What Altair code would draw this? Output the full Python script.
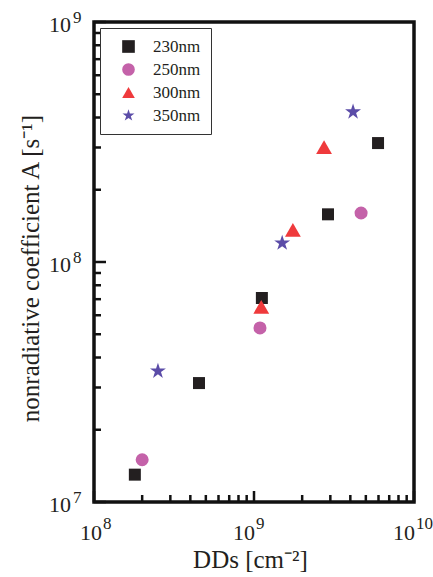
import altair as alt
import pandas as pd

series = ["230nm", "250nm", "300nm", "350nm"]
x_230 = [1.80e8, 4.53e8, 1.12e9, 2.90e9, 5.96e9]
y_230 = [1.30e7, 3.13e7, 7.08e7, 1.58e8, 3.13e8]
x_250 = [2.00e8, 1.09e9, 4.67e9]
y_250 = [1.50e7, 5.31e7, 1.60e8]
x_300 = [1.11e9, 1.75e9, 2.74e9]
y_300 = [6.50e7, 1.36e8, 3.01e8]
x_350 = [2.51e8, 1.50e9, 4.16e9]
y_350 = [3.51e7, 1.20e8, 4.22e8]
colors = ["#231f20", "#c462a9", "#ef3a3c", "#5b4ca8"]
STAR = ("M0,-1L0.2245,-0.309L0.951,-0.309L0.363,0.118L0.588,0.809L0,0.382"
        "L-0.588,0.809L-0.363,0.118L-0.951,-0.309L-0.2245,-0.309Z")
shapes = ["square", "circle", "triangle-up", STAR]
sizes = [144, 170, 250, 280]

x_major = [1e8, 1e9, 1e10]
x_exp = ["8", "9", "10"]
y_major = [1e7, 1e8, 1e9]
y_exp = ["7", "8", "9"]
x_minor = [m * d for d in [1e8, 1e9] for m in range(2, 10)]
y_minor = [m * d for d in [1e7, 1e8] for m in range(2, 10)]

W, H = 320, 480
FONT = "Liberation Serif"
TXT = "#231f20"
XT = "DDs [cm⁻²]"
YT = "nonradiative coefficient A [s⁻¹]"

xscale = alt.Scale(type="log", domain=[1e8, 1e10], nice=False)
yscale = alt.Scale(type="log", domain=[1e7, 1e9], nice=False)

xaxis = alt.Axis(values=x_major, labels=False, ticks=False, domain=False, grid=False,
                 titleFont=FONT, titleFontSize=25, titleFontWeight="normal",
                 titleColor=TXT, titleX=156, titleY=65, titleBaseline="alphabetic",
                 titleAlign="center")
yaxis = alt.Axis(values=y_major, labels=False, ticks=False, domain=False, grid=False,
                 titleFont=FONT, titleFontSize=25, titleFontWeight="normal",
                 titleColor=TXT, titleX=-56, titleY=246, titleBaseline="alphabetic",
                 titleAlign="center", titleAngle=270)

leg = alt.Legend(title=None, orient="none", legendX=6, legendY=6,
                 padding=10, symbolOffset=10, symbolSize=160,
                 strokeColor="#333", fillColor="white",
                 labelFont=FONT, labelFontSize=17,
                 labelColor=TXT, labelOffset=16,
                 rowPadding=5, symbolStrokeWidth=0)

def series_layer(name, xs, ys, sz):
    d = pd.DataFrame({"series": [name] * len(xs), "x": xs, "y": ys})
    return alt.Chart(d).mark_point(filled=True, opacity=1, size=sz).encode(
        x=alt.X("x:Q", scale=xscale, title=XT, axis=xaxis),
        y=alt.Y("y:Q", scale=yscale, title=YT, axis=yaxis),
        color=alt.Color("series:N", scale=alt.Scale(domain=series, range=colors), legend=leg),
        shape=alt.Shape("series:N", scale=alt.Scale(domain=series, range=shapes), legend=leg),
    )

point_layers = [
    series_layer("230nm", x_230, y_230, sizes[0]),
    series_layer("250nm", x_250, y_250, sizes[1]),
    series_layer("300nm", x_300, y_300, sizes[2]),
    series_layer("350nm", x_350, y_350, sizes[3]),
]

def xtick_layer(vals, length):
    return alt.Chart(pd.DataFrame({"v": vals})).mark_rule(
        color="#111", strokeWidth=2.5).encode(
        x=alt.X("v:Q", scale=xscale, title=XT, axis=xaxis),
        y=alt.value(H), y2=alt.value(H - length))

def ytick_layer(vals, length):
    return alt.Chart(pd.DataFrame({"v": vals})).mark_rule(
        color="#111", strokeWidth=2.5).encode(
        y=alt.Y("v:Q", scale=yscale, title=YT, axis=yaxis),
        x=alt.value(0), x2=alt.value(length))

xlab_df = pd.DataFrame({"v": x_major, "e": x_exp, "b": ["10"] * 3})
ylab_df = pd.DataFrame({"v": y_major, "e": y_exp, "b": ["10"] * 3})

def xlab(sub, dx):
    base = alt.Chart(sub).mark_text(font=FONT, fontSize=22, color=TXT, align="right",
                                    baseline="alphabetic", dx=dx).encode(
        x=alt.X("v:Q", scale=xscale, title=XT, axis=xaxis),
        y=alt.value(H + 38), text="b:N")
    exp = alt.Chart(sub).mark_text(font=FONT, fontSize=17, color=TXT, align="left",
                                   baseline="alphabetic", dx=dx + 1).encode(
        x=alt.X("v:Q", scale=xscale, title=XT, axis=xaxis),
        y=alt.value(H + 27), text="e:N")
    return [base, exp]

ylab_base = alt.Chart(ylab_df).mark_text(font=FONT, fontSize=22, color=TXT, align="right",
                                         baseline="alphabetic", dx=-23, dy=10).encode(
    y=alt.Y("v:Q", scale=yscale, title=YT, axis=yaxis),
    x=alt.value(0), text="b:N")
ylab_exp = alt.Chart(ylab_df).mark_text(font=FONT, fontSize=17, color=TXT, align="left",
                                        baseline="alphabetic", dx=-21, dy=1).encode(
    y=alt.Y("v:Q", scale=yscale, title=YT, axis=yaxis),
    x=alt.value(0), text="e:N")

chart = alt.layer(
    *point_layers,
    xtick_layer(x_minor, 7), xtick_layer(x_major, 11),
    ytick_layer(y_minor, 7), ytick_layer(y_major, 12),
    *xlab(xlab_df.iloc[:1], 8), *xlab(xlab_df.iloc[1:], 1),
    ylab_base, ylab_exp,
).properties(
    width=W, height=H, background="white",
    autosize=alt.AutoSizeParams(type="none"),
    padding={"left": 94, "top": 22, "right": 19, "bottom": 75},
).configure_view(stroke="#111", strokeWidth=3.5)

chart.save("out.html", embed_options={"renderer": "svg", "actions": False})
